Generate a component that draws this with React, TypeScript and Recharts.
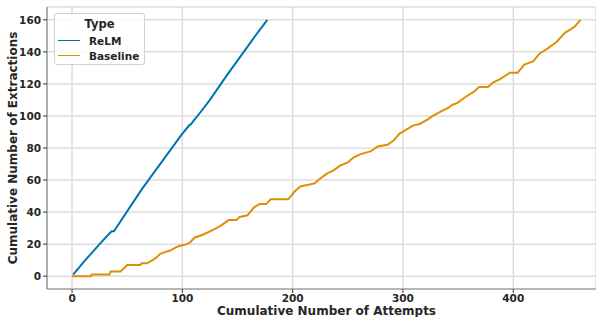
import { CartesianGrid, Line, LineChart, XAxis, YAxis } from 'recharts';

// breakpoints (attempts, cumulative extractions)
const relmAttempts = [1, 12, 25, 33, 36, 38, 63, 99, 106, 108, 116, 125, 140, 164, 177];
const relmExtractions = [1, 10, 20, 26, 28, 28, 54, 88, 94, 95, 102, 110, 125, 148, 160];

const baselineAttempts = [
  0, 17, 18, 34, 35, 44, 50, 62, 63, 68, 73, 77, 80, 84, 89, 94, 98, 104, 107, 111, 119, 125, 131, 136, 142, 149,
  152, 159, 165, 170, 176, 180, 196, 202, 207, 214, 220, 225, 231, 237, 243, 250, 255, 261, 271, 277, 286, 292,
  297, 309, 315, 323, 327, 335, 341, 345, 349, 357, 364, 369, 377, 382, 388, 397, 404, 410, 418, 424, 431, 439,
  447, 452, 456, 461,
];
const baselineExtractions = [
  0, 0, 1, 1, 3, 3, 7, 7, 8, 8, 10, 12, 14, 15, 16, 18, 19, 20, 21, 24, 26, 28, 30, 32, 35, 35,
  37, 38, 43, 45, 45, 48, 48, 53, 56, 57, 58, 61, 64, 66, 69, 71, 74, 76, 78, 81, 82, 85,
  89, 94, 95, 98, 100, 103, 105, 107, 108, 112, 115, 118, 118, 121, 123, 127, 127, 132, 134, 139, 142, 146,
  152, 154, 156, 160,
];

const xTicks = [0, 100, 200, 300, 400];
const yTicks = [0, 20, 40, 60, 80, 100, 120, 140, 160];

const seriesNames = ['ReLM', 'Baseline'];
const seriesColors = ['#0173b2', '#de8f05'];

const relmData = relmAttempts.map((x, i) => ({ x, y: relmExtractions[i] }));
const baselineData = baselineAttempts.map((x, i) => ({ x, y: baselineExtractions[i] }));

const font = '"DejaVu Sans", sans-serif';
const textColor = '#262626';

function TypeLegend() {
  return (
    <div
      style={{
        position: 'absolute',
        left: 54,
        top: 13,
        width: 91,
        height: 52,
        boxSizing: 'border-box',
        border: '1px solid #d0d0d0',
        borderRadius: 3,
        background: 'rgba(255,255,255,0.85)',
        fontFamily: font,
        fontWeight: 'bold',
        color: textColor,
      }}
    >
      <div style={{ textAlign: 'center', fontSize: 11.5, lineHeight: '14px', marginTop: 3 }}>Type</div>
      {seriesNames.map((name, i) => (
        <div key={name} style={{ display: 'flex', alignItems: 'center', height: 15, marginTop: i === 0 ? 2 : 0 }}>
          <div style={{ width: 22, height: 0, borderTop: `1.5px solid ${seriesColors[i]}`, marginLeft: 3, marginRight: 9 }} />
          <span style={{ fontSize: 10.5 }}>{name}</span>
        </div>
      ))}
    </div>
  );
}

function XLabel(props: any) {
  const vb = props.viewBox || {};
  return (
    <text
      x={vb.x + vb.width / 2 + 5}
      y={vb.y + vb.height - 2}
      textAnchor="middle"
      fontFamily={font}
      fontWeight="bold"
      fontSize={12}
      fill={textColor}
    >
      Cumulative Number of Attempts
    </text>
  );
}

function YLabel(props: any) {
  const vb = props.viewBox || {};
  const cy = vb.y + vb.height / 2;
  return (
    <text
      x={17}
      y={cy}
      transform={`rotate(-90, 17, ${cy})`}
      textAnchor="middle"
      fontFamily={font}
      fontWeight="bold"
      fontSize={12}
      fill={textColor}
    >
      Cumulative Number of Extractions
    </text>
  );
}

export default function App() {
  const tickStyle = { fontFamily: font, fontWeight: 'bold', fontSize: 10.5, fill: textColor };
  return (
    <div style={{ position: 'absolute', left: 0, top: 0, width: 596, height: 317, background: '#fff' }}>
      <LineChart width={596} height={317} margin={{ top: 7, right: 0, bottom: 0, left: 0 }}>
        <CartesianGrid stroke="#dcdcdc" strokeWidth={1.5} />
        <XAxis
          xAxisId="top"
          orientation="top"
          type="number"
          dataKey="x"
          domain={[-22.7, 475]}
          allowDataOverflow
          height={0}
          tick={false}
          tickLine={false}
          axisLine={{ stroke: '#333', strokeWidth: 1.2 }}
        />
        <XAxis
          type="number"
          dataKey="x"
          domain={[-22.7, 475]}
          allowDataOverflow
          ticks={xTicks}
          height={28}
          tickSize={4}
          tickMargin={2}
          tick={tickStyle}
          tickLine={{ stroke: '#333' }}
          axisLine={{ stroke: '#888', strokeWidth: 1.2 }}
          label={<XLabel />}
        />
        <YAxis
          type="number"
          domain={[-8, 168]}
          allowDataOverflow
          ticks={yTicks}
          width={47}
          tickSize={4}
          tickMargin={2}
          tick={tickStyle}
          tickLine={{ stroke: '#333' }}
          axisLine={{ stroke: '#888', strokeWidth: 1.2 }}
          label={<YLabel />}
        />
        <Line
          data={relmData}
          dataKey="y"
          name="ReLM"
          type="linear"
          stroke={seriesColors[0]}
          strokeWidth={2}
          dot={false}
          activeDot={false}
          isAnimationActive={false}
        />
        <Line
          data={baselineData}
          dataKey="y"
          name="Baseline"
          type="linear"
          stroke={seriesColors[1]}
          strokeWidth={2}
          dot={false}
          activeDot={false}
          isAnimationActive={false}
        />
      </LineChart>
      <TypeLegend />
    </div>
  );
}
